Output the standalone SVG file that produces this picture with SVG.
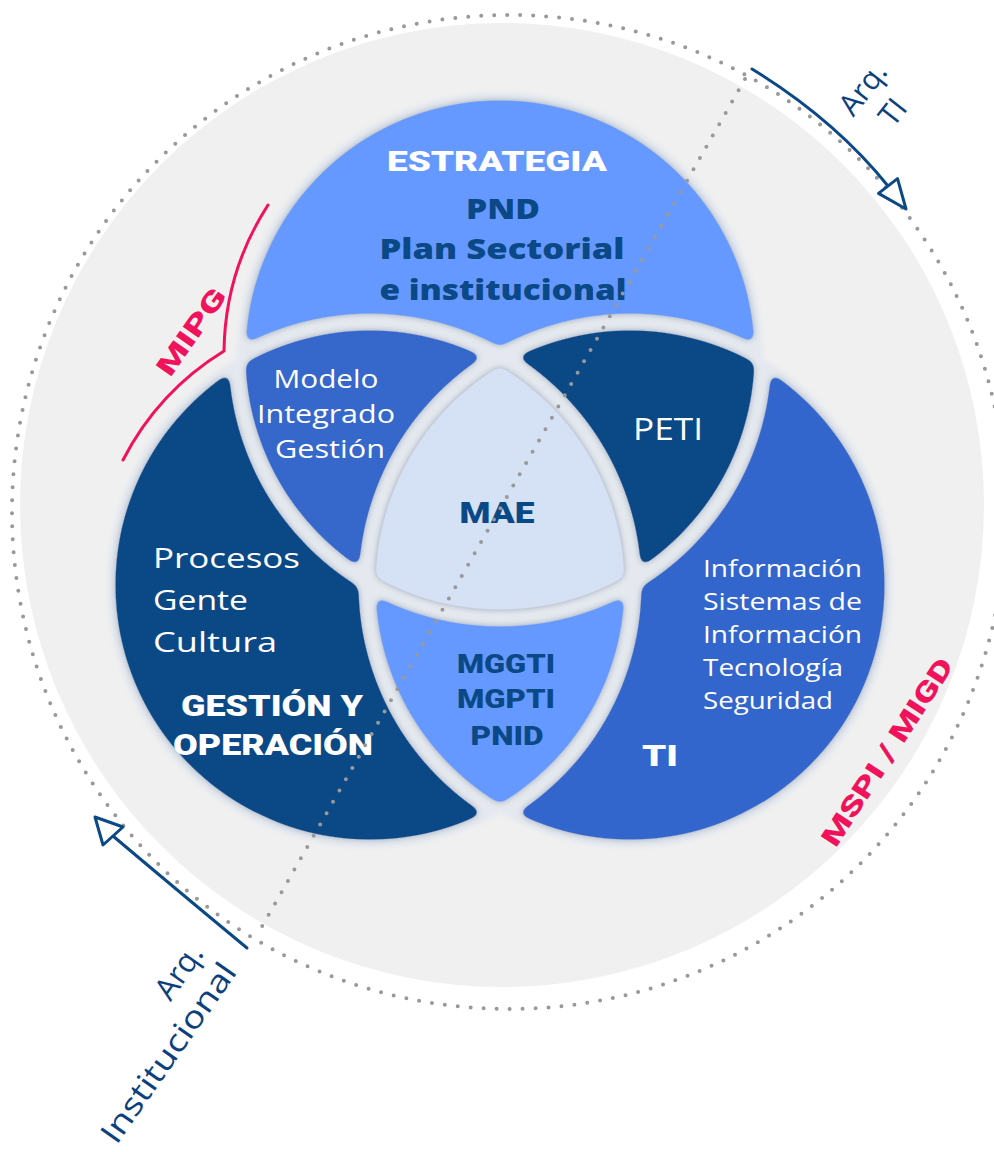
<svg xmlns="http://www.w3.org/2000/svg" width="994" height="1152" viewBox="0 0 994 1152">
<style>
.reg{font-family:"Open Sans","DejaVu Sans",sans-serif;font-weight:400}
.bold{font-family:"Open Sans","DejaVu Sans",sans-serif;font-weight:800}
.heavy{font-family:Roboto,Lato,"DejaVu Sans",sans-serif;font-weight:900}
.w{fill:#ffffff}
.n{fill:#0B4886}
.pink{fill:#F0135C}
.dots{fill:none;stroke:#999999;stroke-width:4;stroke-linecap:round;stroke-dasharray:0 13}
.arrow{fill:none;stroke:#0B4886;stroke-width:3;stroke-linecap:round;stroke-linejoin:round}
.head{fill:#ffffff;stroke:#0B4886;stroke-width:3;stroke-linejoin:round}
.lbl{fill:#0B3F7E;font-weight:500}
</style>
<defs>
<circle id="cT" cx="500" cy="355" r="263"/>
<circle id="cL" cx="370" cy="585" r="263"/>
<circle id="cR" cx="630" cy="585" r="263"/>
<g id="gapLines" fill="none" stroke="#000" stroke-width="17"><use href="#cT"/><use href="#cL"/><use href="#cR"/></g>
<clipPath id="clipT"><use href="#cT"/></clipPath>
<clipPath id="clipL"><use href="#cL"/></clipPath>
<clipPath id="clipR"><use href="#cR"/></clipPath>
<mask id="mT" maskUnits="userSpaceOnUse" x="0" y="0" width="994" height="1152"><rect width="994" height="1152" fill="#fff"/><use href="#cL" fill="#000"/><use href="#cR" fill="#000"/><use href="#gapLines"/></mask>
<mask id="mL" maskUnits="userSpaceOnUse" x="0" y="0" width="994" height="1152"><rect width="994" height="1152" fill="#fff"/><use href="#cT" fill="#000"/><use href="#cR" fill="#000"/><use href="#gapLines"/></mask>
<mask id="mR" maskUnits="userSpaceOnUse" x="0" y="0" width="994" height="1152"><rect width="994" height="1152" fill="#fff"/><use href="#cT" fill="#000"/><use href="#cL" fill="#000"/><use href="#gapLines"/></mask>
<mask id="mTL" maskUnits="userSpaceOnUse" x="0" y="0" width="994" height="1152"><rect width="994" height="1152" fill="#fff"/><use href="#cR" fill="#000"/><use href="#gapLines"/></mask>
<mask id="mTR" maskUnits="userSpaceOnUse" x="0" y="0" width="994" height="1152"><rect width="994" height="1152" fill="#fff"/><use href="#cL" fill="#000"/><use href="#gapLines"/></mask>
<mask id="mLR" maskUnits="userSpaceOnUse" x="0" y="0" width="994" height="1152"><rect width="994" height="1152" fill="#fff"/><use href="#cT" fill="#000"/><use href="#gapLines"/></mask>
<mask id="mG" maskUnits="userSpaceOnUse" x="0" y="0" width="994" height="1152"><rect width="994" height="1152" fill="#fff"/><use href="#gapLines"/></mask>
<filter id="soft" x="-10%" y="-10%" width="120%" height="120%" color-interpolation-filters="sRGB">
<feGaussianBlur in="SourceGraphic" stdDeviation="5" result="b"/>
<feComponentTransfer in="b" result="r"><feFuncA type="linear" slope="10" intercept="-4.5"/></feComponentTransfer>
<feGaussianBlur in="r" stdDeviation="3" result="s"/>
<feFlood flood-color="#4f6488" flood-opacity="0.5"/>
<feComposite in2="s" operator="in" result="h"/>
<feMerge><feMergeNode in="h"/><feMergeNode in="r"/></feMerge>
</filter>
<filter id="blur2" x="-5%" y="-5%" width="110%" height="110%"><feGaussianBlur stdDeviation="2"/></filter>
</defs>

<rect width="994" height="1152" fill="#ffffff"/>
<g id="background">
<circle cx="502" cy="505" r="482" fill="#F0F0F0"/>
<circle class="dots" cx="509" cy="512" r="497"/>
<g fill="#E5E9EF" filter="url(#blur2)"><use href="#cT"/><use href="#cL"/><use href="#cR"/></g>
</g>

<g id="node-estrategia">
<g filter="url(#soft)"><use href="#cT" mask="url(#mT)" fill="#6699FF"/></g>
<text class="heavy w" x="497" y="171" font-size="28" text-anchor="middle" textLength="220" lengthAdjust="spacingAndGlyphs">ESTRATEGIA</text>
<text class="bold n" x="503" y="219" font-size="29" text-anchor="middle" textLength="74" lengthAdjust="spacingAndGlyphs">PND</text>
<text class="bold n" x="502" y="259" font-size="29" text-anchor="middle" textLength="245" lengthAdjust="spacingAndGlyphs">Plan Sectorial</text>
<text class="bold n" x="503" y="300" font-size="29" text-anchor="middle" textLength="247" lengthAdjust="spacingAndGlyphs">e institucional</text>
</g>

<g id="node-gestion">
<g filter="url(#soft)"><use href="#cL" mask="url(#mL)" fill="#0B4886"/></g>
<text class="reg w" x="153" y="568" font-size="28" textLength="147" lengthAdjust="spacingAndGlyphs">Procesos</text>
<text class="reg w" x="153" y="610" font-size="28" textLength="95" lengthAdjust="spacingAndGlyphs">Gente</text>
<text class="reg w" x="153" y="652" font-size="28" textLength="124" lengthAdjust="spacingAndGlyphs">Cultura</text>
<text class="heavy w" x="272" y="716" font-size="30" text-anchor="middle" textLength="182" lengthAdjust="spacingAndGlyphs">GESTIÓN Y</text>
<text class="heavy w" x="273" y="755" font-size="30" text-anchor="middle" textLength="200" lengthAdjust="spacingAndGlyphs">OPERACIÓN</text>
</g>

<g id="node-ti">
<g filter="url(#soft)"><use href="#cR" mask="url(#mR)" fill="#3366CC"/></g>
<text class="reg w" x="703" y="577" font-size="23" textLength="159" lengthAdjust="spacingAndGlyphs">Información</text>
<text class="reg w" x="703" y="610" font-size="23" textLength="159" lengthAdjust="spacingAndGlyphs">Sistemas de</text>
<text class="reg w" x="703" y="643" font-size="23" textLength="159" lengthAdjust="spacingAndGlyphs">Información</text>
<text class="reg w" x="703" y="676" font-size="23" textLength="140" lengthAdjust="spacingAndGlyphs">Tecnología</text>
<text class="reg w" x="703" y="709" font-size="23" textLength="130" lengthAdjust="spacingAndGlyphs">Seguridad</text>
<text class="heavy w" x="660" y="766" font-size="30" text-anchor="middle" textLength="36" lengthAdjust="spacingAndGlyphs">TI</text>
</g>

<g id="node-modelo">
<g filter="url(#soft)"><use href="#cL" clip-path="url(#clipT)" mask="url(#mTL)" fill="#3667CB"/></g>
<text class="reg w" x="326" y="388" font-size="25" text-anchor="middle" textLength="105" lengthAdjust="spacingAndGlyphs">Modelo</text>
<text class="reg w" x="326" y="423" font-size="25" text-anchor="middle" textLength="138" lengthAdjust="spacingAndGlyphs">Integrado</text>
<text class="reg w" x="330" y="458" font-size="25" text-anchor="middle" textLength="110" lengthAdjust="spacingAndGlyphs">Gestión</text>
</g>

<g id="node-peti">
<g filter="url(#soft)"><use href="#cR" clip-path="url(#clipT)" mask="url(#mTR)" fill="#0B4886"/></g>
<text class="reg w" x="668" y="440" font-size="31" text-anchor="middle" textLength="70" lengthAdjust="spacingAndGlyphs">PETI</text>
</g>

<g id="node-mggti">
<g filter="url(#soft)"><use href="#cR" clip-path="url(#clipL)" mask="url(#mLR)" fill="#6699FF"/></g>
<text class="heavy n" x="506" y="673" font-size="25" text-anchor="middle" textLength="98" lengthAdjust="spacingAndGlyphs">MGGTI</text>
<text class="heavy n" x="506" y="708" font-size="25" text-anchor="middle" textLength="98" lengthAdjust="spacingAndGlyphs">MGPTI</text>
<text class="heavy n" x="507" y="745" font-size="25" text-anchor="middle" textLength="73" lengthAdjust="spacingAndGlyphs">PNID</text>
</g>

<g id="node-mae">
<g filter="url(#soft)"><g clip-path="url(#clipL)"><use href="#cT" clip-path="url(#clipR)" mask="url(#mG)" fill="#D5E1F4"/></g></g>
<text class="heavy n" x="497" y="523" font-size="30" text-anchor="middle" textLength="75" lengthAdjust="spacingAndGlyphs">MAE</text>
</g>

<g id="connectors">
<line class="dots" x1="745" y1="79" x2="256" y2="937"/>
<path class="arrow" d="M752,69 Q835,120 888,186"/>
<path class="head" d="M897.5,178.6 L906,209 L878.5,193.4 Z"/>
<path class="arrow" d="M247,948 Q165,880 113,836"/>
<path class="head" d="M95,817 L123,827 L103,845 Z"/>
</g>

<g id="label-mipg">
<path d="M268,205 A276,276 0 0,0 224,351 A276,276 0 0,0 123,460" fill="none" stroke="#F0135C" stroke-width="3" stroke-linecap="round" stroke-linejoin="round"/>
<text class="heavy pink" font-size="27" text-anchor="middle" transform="translate(199,337) rotate(-55)" textLength="100" lengthAdjust="spacingAndGlyphs">MIPG</text>
</g>

<g id="label-mspi">
<text class="heavy pink" font-size="27" text-anchor="middle" transform="translate(895,757) rotate(-57)" textLength="218" lengthAdjust="spacingAndGlyphs">MSPI / MIGD</text>
</g>

<g id="label-arq-ti">
<text class="reg lbl" font-size="30" text-anchor="middle" transform="translate(871,95) rotate(-52)"><tspan x="0" y="0">Arq.</tspan><tspan x="0" y="38">TI</tspan></text>
</g>

<g id="label-arq-inst">
<g transform="translate(238,972) rotate(-55)">
<text class="reg lbl" font-size="31" text-anchor="end" x="-4" y="-38">Arq.</text>
<text class="reg lbl" font-size="31" text-anchor="end" x="0" y="0" textLength="212" lengthAdjust="spacingAndGlyphs">Institucional</text>
</g>
</g>
</svg>
